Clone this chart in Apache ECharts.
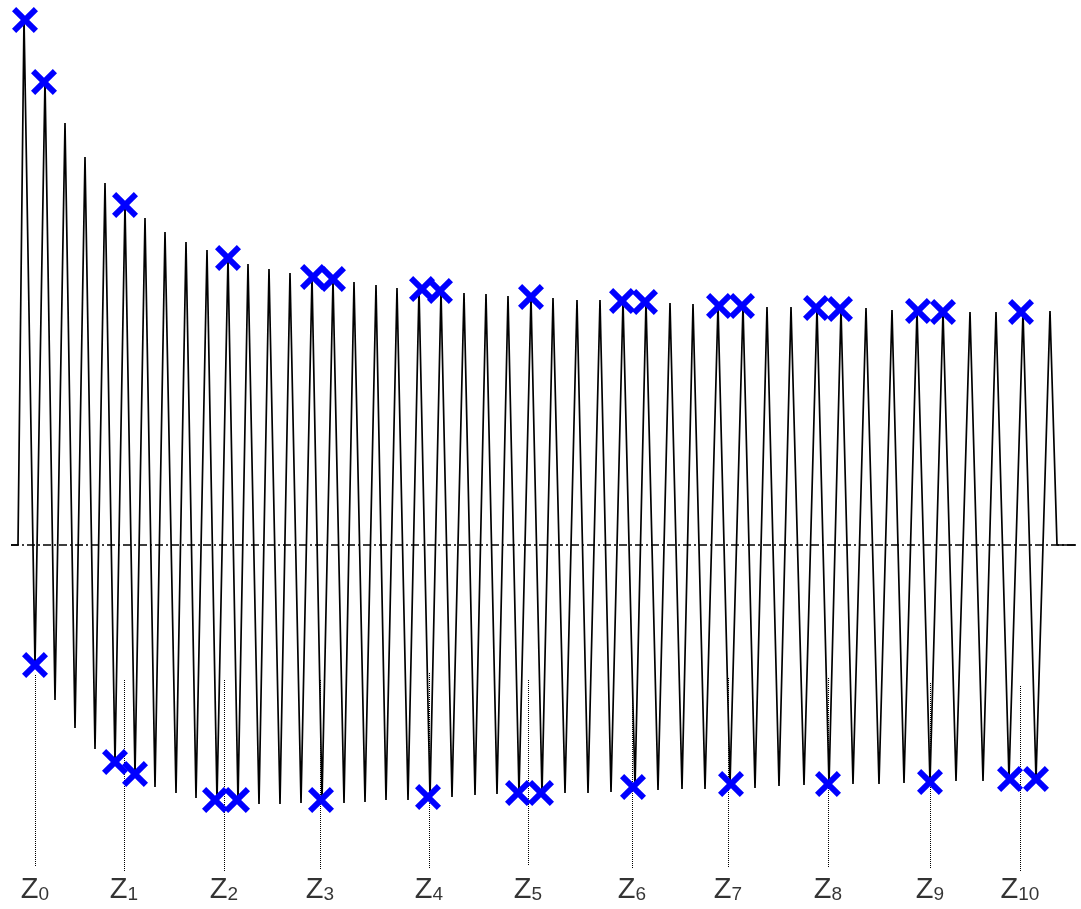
<!DOCTYPE html>
<html>
<head>
<meta charset="utf-8">
<script src="https://cdn.jsdelivr.net/npm/echarts@6/dist/echarts.min.js"></script>
<style>
html,body{margin:0;padding:0;background:#fff;}
#chart{width:1081px;height:909px;}
</style>
</head>
<body>
<div id="chart"></div>
<script>
// Waveform peaks (time, value)
const peakX = [24,45,65,85,105,125,145,165,186,207,228,248,269,290,312,333,354,376,397,419,441,464,486,508,531,553,577,600,623,646,670,693,718,743,767,791,817,841,866,892,917,943,970,996,1023,1050];
const peakV = [527,465,422,388,362,340,327,313,303,295,287,281,276,272,268,265,263,260,257,256,254,252,251,249,248,247,245,245,244,243,242,241,240,239,238,238,237,236,237,235,234,233,233,233,233,234];
// Waveform troughs (time, value)
const troughX = [35,55,75,95,115,135,155,176,196,217,238,259,280,301,322,344,365,386,408,430,452,475,497,519,542,565,588,611,635,658,682,705,730,755,779,804,829,853,879,904,930,956,983,1009,1036];
const troughV = [-120,-155,-183,-204,-217,-229,-242,-248,-253,-255,-256,-259,-259,-258,-255,-258,-257,-255,-255,-252,-252,-250,-249,-248,-248,-248,-248,-247,-242,-245,-244,-244,-239,-243,-241,-240,-239,-239,-239,-238,-237,-236,-236,-234,-234];
// start / end of trace at zero level
const leadX = [11,18];
const tailX = [1057,1076];

// Marked maxima (blue crosses, upper)
const maxMarkX = [25,44,125,228,313,333,422,440,531,622,645,719,742,816,840,918,943,1021];
const maxMarkV = [525,463,340,287,268,266,256,254,248,244,243,239,239,237,236,234,233,233];
// Marked minima (blue crosses, lower)
const minMarkX = [35,115,135,215,237,321,428,518,541,633,731,828,930,1010,1036];
const minMarkV = [-120,-217,-229,-255,-255,-255,-252,-248,-248,-242,-239,-239,-237,-234,-234];

// Z reference lines
const zLabels = ['0','1','2','3','4','5','6','7','8','9','10'];
const zX = [35,124,224,320,429,528,632,728,828,930,1020];
const zTop = [-130,-135,-135,-135,-128,-135,-138,-133,-133,-138,-141];
const zBottom = [-321,-326,-326,-325,-323,-321,-323,-323,-323,-323,-327];
const zLabelV = -343;

// zero reference line
const zeroLine = [[11,0],[1075,0]];

const wave = [];
leadX.forEach(x => wave.push([x, 0]));
for (let i = 0; i < peakX.length; i++) {
  wave.push([peakX[i], peakV[i]]);
  if (i < troughX.length) wave.push([troughX[i], troughV[i]]);
}
tailX.forEach(x => wave.push([x, 0]));

const marks = [];
maxMarkX.forEach((x,i)=>marks.push([x, maxMarkV[i]]));
minMarkX.forEach((x,i)=>marks.push([x, minMarkV[i]]));

const X_PATH = 'path://M0,16L16,0L50,34L84,0L100,16L66,50L100,84L84,100L50,66L16,100L0,84L34,50Z';

const chart = echarts.init(document.getElementById('chart'), null, {renderer:'canvas'});
chart.setOption({
  animation: false,
  backgroundColor: '#ffffff',
  grid: {left:0, right:0, top:0, bottom:0, containLabel:false},
  xAxis: {type:'value', min:0, max:1081, show:false},
  yAxis: {type:'value', min:-364, max:545, show:false},
  series: [
    {
      type:'custom', z:1, silent:true,
      data: zX.map((x,i)=>[x, zTop[i], zBottom[i]]),
      renderItem: function(params, api){
        const p1 = api.coord([api.value(0), api.value(1)]);
        const p2 = api.coord([api.value(0), api.value(2)]);
        const x = Math.round(p1[0]) + 0.5;
        return {type:'line', shape:{x1:x, y1:p1[1], x2:x, y2:p2[1]},
          style:{stroke:'#000', lineWidth:1, lineDash:[1,1]}};
      }
    },
    {
      type:'line', z:2, silent:true, data: zeroLine, symbol:'none',
      lineStyle:{color:'#000', width:1.4, type:[8,3,2,3]}
    },
    {
      type:'line', z:3, silent:true, data: wave, symbol:'none', showSymbol:false,
      lineStyle:{color:'#000', width:1.7}
    },
    {
      type:'scatter', z:5, silent:true, data: marks, symbol: X_PATH, symbolSize:26,
      itemStyle:{color:'#0000ff', opacity:1}
    },
    {
      type:'scatter', z:6, silent:true,
      data: zX.map((x,i)=>[x, zLabelV, zLabels[i]]),
      symbolSize:1, itemStyle:{color:'rgba(0,0,0,0)'},
      label:{
        show:true, position:'inside', align:'center', verticalAlign:'middle',
        formatter: p => '{z|Z}{s|' + p.value[2] + '}',
        rich:{
          z:{fontSize:29, fontFamily:'Liberation Sans, Arial, sans-serif', color:'#000', verticalAlign:'bottom', lineHeight:32},
          s:{fontSize:19, fontFamily:'Liberation Sans, Arial, sans-serif', color:'#000', verticalAlign:'bottom', lineHeight:32}
        }
      }
    }
  ]
});
</script>
</body>
</html>
